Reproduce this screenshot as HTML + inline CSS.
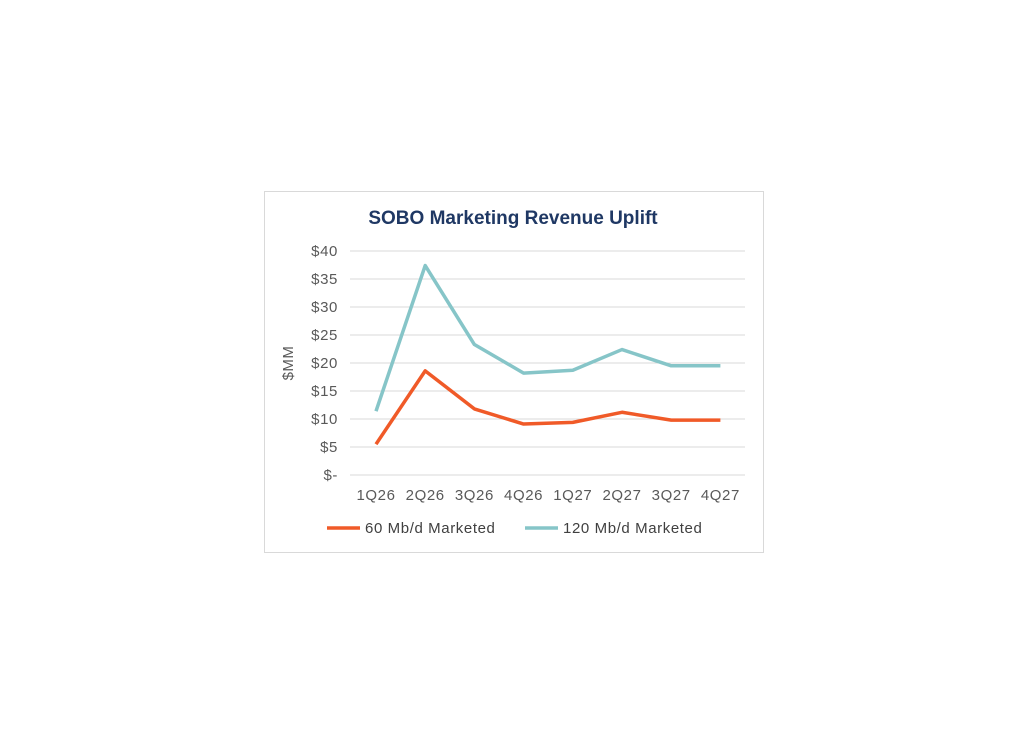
<!DOCTYPE html>
<html><head><meta charset="utf-8"><style>
body{margin:0;background:#fff;width:1024px;height:740px;overflow:hidden}
svg{position:absolute;left:0;top:0}
text{font-family:"Liberation Sans",sans-serif}
</style></head><body>
<svg width="1024" height="740">
<rect x="264.5" y="191.5" width="499" height="361" fill="#fff" stroke="#d9d9d9"/>
<text x="513" y="224" text-anchor="middle" font-size="19" font-weight="bold" fill="#1f3864">SOBO Marketing Revenue Uplift</text>
<text transform="translate(293,363) rotate(-90)" text-anchor="middle" font-size="15" letter-spacing="0.5" fill="#595959">$MM</text>
<g id="grid"></g><g id="yt"></g><g id="xt"></g><g id="lines"></g>
<g>
<line x1="327" y1="528" x2="360" y2="528" stroke="#f05a28" stroke-width="3.5"/>
<text x="365" y="533" font-size="15" letter-spacing="0.6" fill="#404040">60 Mb/d Marketed</text>
<line x1="525" y1="528" x2="558" y2="528" stroke="#86c5c8" stroke-width="3.5"/>
<text x="563" y="533" font-size="15" letter-spacing="0.6" fill="#404040">120 Mb/d Marketed</text>
</g>
</svg>
<script>
const categories=["1Q26","2Q26","3Q26","4Q26","1Q27","2Q27","3Q27","4Q27"];
const series60=[5.5,18.6,11.8,9.1,9.4,11.2,9.8,9.8];
const series120=[11.4,37.4,23.3,18.2,18.7,22.4,19.5,19.5];
const yTicks=[0,5,10,15,20,25,30,35,40];
const yTickLabels=["$-","$5","$10","$15","$20","$25","$30","$35","$40"];
const NS="http://www.w3.org/2000/svg";
const y=v=>475-v*5.6;
const x=i=>376+i*49.2;
function mk(t,a,p){const e=document.createElementNS(NS,t);for(const k in a)e.setAttribute(k,a[k]);p.appendChild(e);return e;}
const grid=document.getElementById('grid'),yt=document.getElementById('yt'),xt=document.getElementById('xt'),lines=document.getElementById('lines');
yTicks.forEach((v,i)=>{
 const l=mk('line',{x1:350,x2:745,y1:y(v),y2:y(v),stroke:'#d9d9d9','stroke-width':1},grid);
 
 
 const t=mk('text',{x:338,y:y(v)+5,'text-anchor':'end','font-size':15,'letter-spacing':0.6,fill:'#595959'},yt);
 t.textContent=yTickLabels[i];
 
 
});
categories.forEach((c,i)=>{
 const t=mk('text',{x:x(i),y:500,'text-anchor':'middle','font-size':15,'letter-spacing':0.6,fill:'#595959'},xt);
 t.textContent=c;
 
 
});
function line(d,col,name){
 const p=mk('polyline',{points:d.map((v,i)=>x(i)+','+y(v)).join(' '),fill:'none',stroke:col,'stroke-width':3.5,'stroke-linejoin':'round'},lines);
 
 
}
line(series120,'#86c5c8','line-120');
line(series60,'#f05a28','line-60');
</script>
</body></html>
